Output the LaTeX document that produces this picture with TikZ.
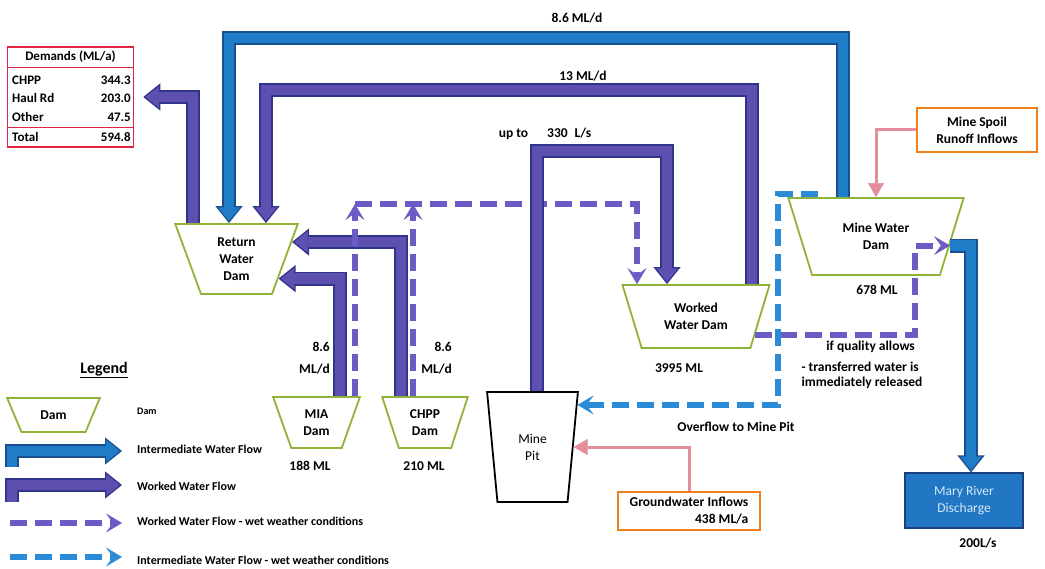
\documentclass[tikz,border=0pt]{standalone}
\usepackage{fontspec}
\setmainfont{Carlito}
\usetikzlibrary{arrows.meta,positioning,shapes.geometric}
\definecolor{wfill}  {HTML}{5E50B0}
\definecolor{wline}  {HTML}{2F3589}
\definecolor{ifill}  {HTML}{1F7DC8}
\definecolor{iline}  {HTML}{1A4F8F}
\definecolor{wetw}   {HTML}{6A5CC4}
\definecolor{weti}   {HTML}{2B8BD6}
\definecolor{damline}{HTML}{8FB339}
\definecolor{redc}   {HTML}{E32440}
\definecolor{orangec}{HTML}{F0801E}
\definecolor{pinkc}  {HTML}{E38E9A}
\definecolor{mrfill} {HTML}{2177C4}
\definecolor{mrline} {HTML}{1B3F80}
\definecolor{mrtext} {HTML}{D6E8F8}
\tikzset{
  lbl/.style    ={font=\fontsize{13.5}{17}\selectfont\bfseries, align=center, inner sep=1pt},
  tlbl/.style   ={font=\fontsize{13}{15}\selectfont\bfseries, inner sep=0pt},
  leg/.style    ={font=\fontsize{12}{14}\selectfont\bfseries, anchor=west, inner sep=0pt},
  dam/.style    ={trapezium, shape border rotate=180, trapezium stretches=true,
                  draw=damline, line width=1.8pt, fill=white, lbl},
  obox/.style   ={draw=orangec, line width=2pt, fill=white, lbl},
  mrbox/.style  ={draw=mrline, fill=mrfill, text=mrtext, line width=1.2pt,
                  minimum width=118, minimum height=55, align=center,
                  font=\fontsize{13.5}{17}\selectfont},
  demtab/.style ={draw=redc, line width=1.5pt, minimum width=126, minimum height=100},
  demrule/.style={draw=redc, line width=1.2pt},
  wflow/.style  ={draw=wline, line width=14pt, line join=miter,
                  -{Triangle[length=17pt,width=27pt,fill=wfill,line width=1.2pt]},
                  postaction={draw=wfill, line width=10.5pt, -, shorten >=15.5pt}},
  iflow/.style  ={draw=iline, line width=14pt, line join=miter,
                  -{Triangle[length=17pt,width=27pt,fill=ifill,line width=1.2pt]},
                  postaction={draw=ifill, line width=10.5pt, -, shorten >=15.5pt}},
  wwet/.style   ={draw=wetw, line width=6pt, dash pattern=on 17pt off 8pt,
                  -{Stealth[length=16pt,width=19pt,inset=7pt,line width=0.5pt]}},
  iwet/.style   ={draw=weti, line width=6pt, dash pattern=on 17pt off 8pt,
                  -{Stealth[length=16pt,width=19pt,inset=7pt,line width=0.5pt]}},
  inflow/.style ={draw=pinkc, line width=3pt,
                  -{Triangle[length=14pt,width=16pt,line width=0.5pt]}},
}
\begin{document}
\begin{tikzpicture}[x=1pt,y=-1pt]
  \useasboundingbox (0,0) rectangle (1045,569);

  % demands table
  \node[demtab] (dem) at (70.5,97) {};
  \node[tlbl] (demhead) at (70.5,57) {Demands (ML/a)};
  \node[tlbl,anchor=west] (dchpp)  at (12,80)  {CHPP};
  \node[tlbl,anchor=east] (dchppv) at (131,80) {344.3};
  \node[tlbl,anchor=west] (dhaul)  at (12,98)  {Haul Rd};
  \node[tlbl,anchor=east] (dhaulv) at (131,98) {203.0};
  \node[tlbl,anchor=west] (doth)   at (12,117) {Other};
  \node[tlbl,anchor=east] (dothv)  at (131,117) {47.5};
  \node[tlbl,anchor=west] (dtot)   at (12,137) {Total};
  \node[tlbl,anchor=east] (dtotv)  at (131,137) {594.8};
  \draw[demrule] ([yshift=-21pt]dem.north west) -- ([yshift=-21pt]dem.north east);
  \draw[demrule] ([yshift=20pt]dem.south west) -- ([yshift=20pt]dem.south east);

  % dams and pit
  \node[dam,minimum width=123,minimum height=70,trapezium angle=72] (rwd) at (236.5,259) {Return\\Water\\Dam};
  \node[dam,minimum width=148,minimum height=63,trapezium angle=68] (wwd) at (696,316.5) {Worked\\Water Dam};
  \node[dam,minimum width=176,minimum height=77,trapezium angle=66] (mwd) at (876,236.5) {Mine Water\\Dam};
  \node[dam,minimum width=87,minimum height=51,trapezium angle=70] (mia) at (316.5,422.5) {MIA\\Dam};
  \node[dam,minimum width=86,minimum height=51,trapezium angle=70] (chpp) at (425,422.5) {CHPP\\Dam};
  \node[dam,draw=black,minimum width=91,minimum height=110,trapezium angle=81,
        font=\fontsize{13.5}{17}\selectfont] (pit) at (532.5,447) {Mine\\Pit};

  % sources and discharge
  \node[obox,minimum width=120,minimum height=44] (msr) at (977,130) {Mine Spoil\\Runoff Inflows};
  \node[obox,minimum width=142,minimum height=38,align=right] (gw) at (689,511) {Groundwater Inflows\\438 ML/a};
  \node[mrbox] (mrd) at (964,500.5) {Mary River\\Discharge};

  % volumes and rates
  \node[lbl] (miavol)  at (310,466) {188 ML};
  \node[lbl] (chppvol) at (424,466) {210 ML};
  \node[lbl] (wwdvol)  at (679,368) {3995 ML};
  \node[lbl] (mwdvol)  at (877,290) {678 ML};
  \node[lbl] (mrdrate) at (978,543) {200L/s};
  \node[lbl] (f86)  at (577,18) {8.6 ML/d};
  \node[lbl] (f13)  at (583,76) {13 ML/d};
  \node[lbl] (f330) at (545,134) {up to\hspace{19pt}330\hspace{7pt}L/s};
  \node[lbl,anchor=east,align=right] (fmia)  at (331,358) {8.6\\[5pt]ML/d};
  \node[lbl,anchor=east,align=right] (fchpp) at (453,358) {8.6\\[5pt]ML/d};
  \node[lbl,anchor=east] (fqual) at (916,347) {if quality allows};
  \node[lbl,align=left] (frel) at (862,375) {- transferred water is\\[-2pt]immediately released};
  \node[lbl] (fover) at (736,427) {Overflow to Mine Pit};

  % flows
  \draw[iflow] ([xshift=-33pt]mwd.north) -- ++(0,-159) -| ([xshift=-7.5pt]rwd.north);
  \draw[wflow] ([xshift=56pt]wwd.north) -- ++(0,-194) -| ([xshift=29.5pt]rwd.north);
  \draw[wflow] ([xshift=-43.5pt]rwd.north) |- ([xshift=9pt]dem.east);
  \draw[wflow] ([xshift=23.5pt]mia.north) |- (rwd.-25);
  \draw[wflow] ([xshift=-24pt]chpp.north) |- (rwd.17);
  \draw[wwet] ([xshift=38.5pt]mia.north) -- ++(0,-192) coordinate (wetj);
  \draw[wwet] ([xshift=-12pt]chpp.north) -- ++(0,-192);
  \draw[wwet] (wetj) -| ([xshift=-59pt]wwd.north);
  \draw[wflow] ([xshift=4.5pt]pit.north) -- ++(0,-240) -| ([xshift=-29pt]wwd.north);
  \draw[iflow] (mwd.-7) -| ([xshift=7pt]mrd.north);
  \draw[wwet] (wwd.-17) -- ++(160,0) |- (mwd.-7);
  \draw[iwet] ([shift={(-58pt,3pt)}]mwd.north) -- ++(-40,0) |- (pit.43);
  \draw[inflow] (msr.west) -| (mwd.north);
  \draw[inflow] (gw.north) |- (pit.east);

  % legend
  \node[font=\fontsize{16}{18}\selectfont\bfseries] (legtitle) at (104,370) {\underline{Legend}};
  \node[dam,minimum width=93,minimum height=34,trapezium angle=60] (legdam) at (53.5,415) {Dam};
  \node[leg,font=\fontsize{10}{12}\selectfont\bfseries] (legdaml) at (137,411) {Dam};
  \coordinate (lgi0) at (12,467);
  \coordinate (lgi1) at (122,451);
  \draw[iflow] (lgi0) |- (lgi1);
  \node[leg] (legil) at (137,449) {Intermediate Water Flow};
  \coordinate (lgw0) at (12,502);
  \coordinate (lgw1) at (122,485);
  \draw[wflow] (lgw0) |- (lgw1);
  \node[leg] (legwl) at (137,486) {Worked Water Flow};
  \coordinate (lgww0) at (10,523);
  \coordinate (lgww1) at (122,523);
  \draw[wwet] (lgww0) -- (lgww1);
  \node[leg] (legwwl) at (137,521) {Worked Water Flow - wet weather conditions};
  \coordinate (lgiw0) at (10,557);
  \coordinate (lgiw1) at (122,557);
  \draw[iwet] (lgiw0) -- (lgiw1);
  \node[leg] (legiwl) at (137,560) {Intermediate Water Flow - wet weather conditions};
\end{tikzpicture}
\end{document}
